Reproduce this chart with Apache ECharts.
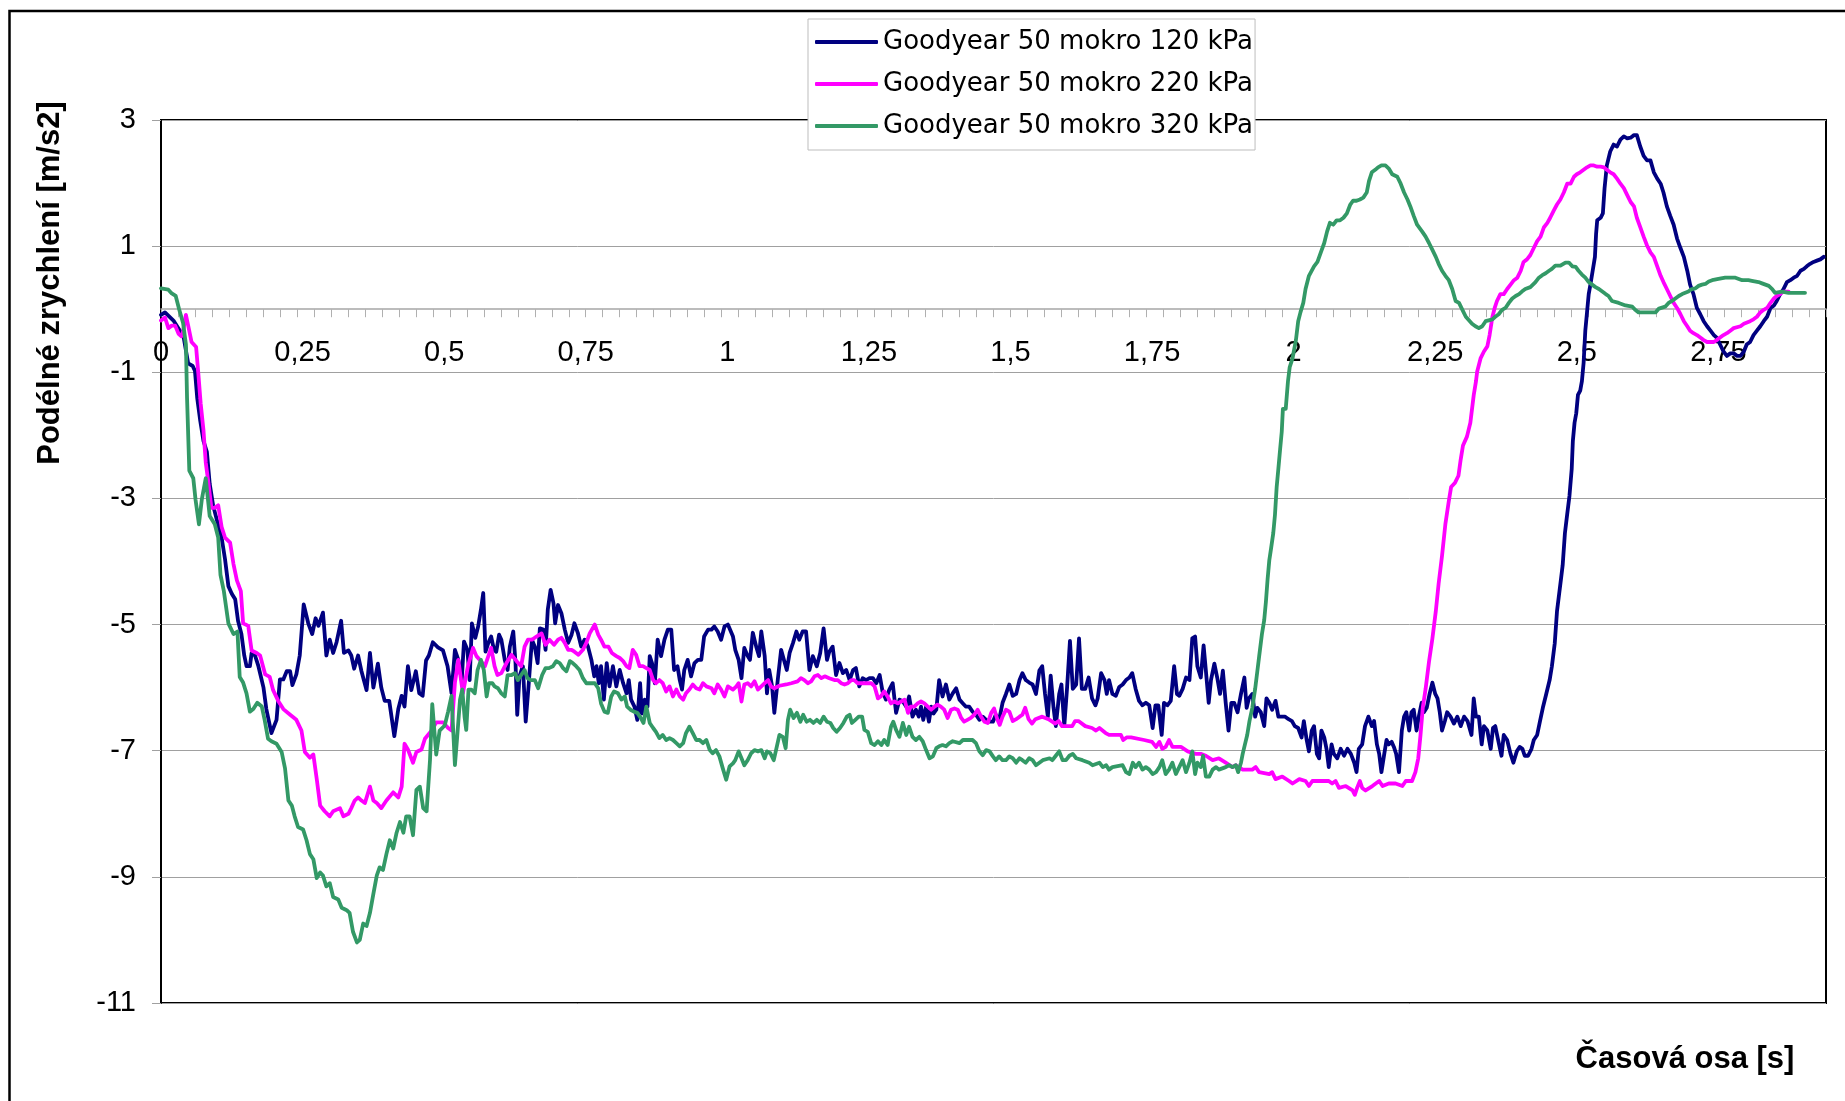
<!DOCTYPE html>
<html><head><meta charset="utf-8">
<script src="https://cdn.jsdelivr.net/npm/echarts@6/dist/echarts.min.js"></script>
<style>html,body{margin:0;padding:0;background:#fff}#c{width:1845px;height:1101px}</style>
</head><body><div id="c"></div>
<script>
const seriesNames = ['Goodyear 50 mokro 120 kPa', 'Goodyear 50 mokro 220 kPa', 'Goodyear 50 mokro 320 kPa'];
const seriesColors = ['#000080', '#FF00FF', '#339966'];
const xTitle = 'Časová osa [s]';
const yTitle = 'Podélné zrychlení [m/s2]';
const xMin = 0, xMax = 2.94, xLabelStep = 0.25, xTickStep = 0.03;
const yMin = -11, yMax = 3, yStep = 2;

// [time s, acceleration m/s2]
const g120 = [[0,-0.09],[0.007,-0.05],[0.022,-0.18],[0.034,-0.35],[0.039,-0.39],[0.048,-0.86],[0.056,-0.90],[0.060,-0.98],[0.064,-1.41],[0.069,-1.75],[0.075,-2.09],[0.081,-2.26],[0.086,-2.77],[0.092,-3.11],[0.098,-3.32],[0.107,-3.62],[0.113,-3.96],[0.119,-4.39],[0.125,-4.51],[0.131,-4.60],[0.136,-4.94],[0.142,-5.15],[0.147,-5.49],[0.151,-5.66],[0.157,-5.66],[0.160,-5.45],[0.166,-5.49],[0.172,-5.66],[0.181,-6.00],[0.186,-6.34],[0.195,-6.72],[0.204,-6.51],[0.210,-5.87],[0.216,-5.87],[0.222,-5.74],[0.228,-5.74],[0.232,-5.96],[0.239,-5.79],[0.245,-5.49],[0.252,-4.68],[0.260,-4.98],[0.267,-5.15],[0.273,-4.90],[0.278,-5.02],[0.286,-4.81],[0.292,-5.49],[0.298,-5.24],[0.304,-5.45],[0.310,-5.28],[0.318,-4.94],[0.323,-5.45],[0.331,-5.41],[0.336,-5.49],[0.341,-5.70],[0.348,-5.49],[0.354,-5.74],[0.363,-6.04],[0.369,-5.45],[0.375,-6.00],[0.383,-5.62],[0.389,-6.00],[0.395,-6.21],[0.403,-6.21],[0.412,-6.77],[0.419,-6.34],[0.425,-6.13],[0.430,-6.30],[0.436,-5.66],[0.442,-6.04],[0.450,-5.74],[0.456,-6.09],[0.462,-6.13],[0.468,-5.57],[0.473,-5.49],[0.480,-5.28],[0.489,-5.36],[0.498,-5.41],[0.506,-5.66],[0.513,-6.09],[0.519,-5.40],
[0.525,-5.56],[0.531,-5.88],[0.535,-5.27],[0.541,-5.40],[0.545,-5.88],[0.549,-4.98],[0.555,-5.21],[0.560,-5.03],[0.565,-4.76],[0.569,-4.50],[0.573,-5.43],[0.578,-5.29],[0.583,-5.19],[0.588,-5.40],[0.592,-5.43],[0.597,-5.16],[0.601,-5.24],[0.607,-5.56],[0.612,-5.72],[0.616,-5.35],[0.622,-5.11],[0.626,-5.61],[0.629,-6.43],[0.633,-5.82],[0.639,-5.66],[0.644,-6.54],[0.649,-5.98],[0.655,-5.24],[0.660,-5.35],[0.665,-5.61],[0.669,-5.06],[0.675,-5.08],[0.679,-5.40],[0.683,-4.76],[0.688,-4.45],[0.693,-4.66],[0.696,-4.98],[0.701,-4.69],[0.707,-4.82],[0.713,-5.08],[0.719,-5.29],[0.725,-5.16],[0.730,-4.98],[0.736,-5.13],[0.742,-5.35],[0.748,-5.24],[0.754,-5.35],[0.760,-5.56],[0.765,-5.82],[0.769,-5.66],[0.773,-5.93],[0.777,-5.66],[0.782,-6.19],[0.787,-5.61],[0.792,-5.98],[0.798,-5.66],[0.804,-5.98],[0.810,-5.72],[0.816,-5.93],[0.822,-6.09],[0.826,-5.88],[0.830,-6.19],[0.836,-6.30],[0.841,-6.51],[0.846,-5.93],[0.849,-6.41],[0.854,-6.19],[0.859,-6.30],[0.863,-5.50],[0.867,-5.61],[0.872,-5.93],[0.877,-5.24],[0.883,-5.50],[0.889,-5.24],[0.895,-5.08],[0.901,-5.08],[0.906,-5.72],[0.912,-5.66],[0.916,-5.88],[0.920,-6.03],[0.924,-5.72],[0.930,-5.56],[0.936,-5.82],[0.942,-5.61],[0.948,-5.56],[0.954,-5.56],[0.959,-5.19],[0.966,-5.08],[0.972,-5.08],[0.977,-5.03],[0.983,-5.11],[0.989,-5.24],[0.995,-5.03],[1.001,-5.00],
[1.010,-5.19],[1.014,-5.40],[1.020,-5.56],[1.025,-5.85],[1.030,-5.37],[1.036,-5.50],[1.040,-5.56],[1.045,-5.13],[1.051,-5.35],[1.056,-5.50],[1.060,-5.11],[1.066,-5.50],[1.070,-6.09],[1.074,-5.72],[1.079,-5.98],[1.083,-6.40],[1.089,-5.88],[1.095,-5.40],[1.100,-5.56],[1.105,-5.72],[1.110,-5.45],[1.116,-5.29],[1.122,-5.11],[1.127,-5.24],[1.133,-5.11],[1.139,-5.11],[1.145,-5.72],[1.151,-5.50],[1.158,-5.66],[1.164,-5.45],[1.170,-5.06],[1.176,-5.56],[1.180,-5.43],[1.186,-5.35],[1.192,-5.80],[1.198,-5.61],[1.204,-5.77],[1.210,-5.72],[1.216,-5.88],[1.222,-5.72],[1.227,-5.69],[1.233,-5.98],[1.239,-5.85],[1.245,-5.88],[1.251,-5.85],[1.257,-5.85],[1.263,-5.93],[1.269,-5.80],[1.274,-6.06],[1.280,-6.19],[1.286,-6.03],[1.292,-5.93],[1.298,-6.40],[1.304,-6.19],[1.310,-6.22],[1.316,-6.30],[1.321,-6.14],[1.327,-6.46],[1.333,-6.35],[1.338,-6.46],[1.342,-6.30],[1.346,-6.51],[1.351,-6.30],[1.356,-6.54],[1.360,-6.30],[1.364,-6.41],[1.369,-6.35],[1.374,-5.88],[1.380,-6.14],[1.386,-5.95],[1.392,-6.19],[1.398,-6.09],[1.404,-6.01],[1.410,-6.19],[1.416,-6.25],[1.421,-6.30],[1.427,-6.30],[1.433,-6.38],[1.439,-6.43],[1.445,-6.51],[1.451,-6.46],[1.457,-6.51],[1.463,-6.54],[1.469,-6.54],[1.474,-6.43],[1.480,-6.51],
[1.486,-6.24],[1.492,-6.10],[1.498,-5.95],[1.504,-6.13],[1.510,-6.10],[1.516,-5.88],[1.521,-5.77],[1.527,-5.88],[1.533,-5.92],[1.539,-5.95],[1.545,-6.10],[1.551,-5.73],[1.556,-5.66],[1.561,-6.10],[1.566,-6.46],[1.571,-5.81],[1.576,-6.32],[1.580,-6.61],[1.586,-6.10],[1.590,-5.95],[1.595,-6.61],[1.600,-5.99],[1.605,-5.26],[1.610,-6.02],[1.616,-5.95],[1.621,-5.22],[1.626,-6.02],[1.632,-6.02],[1.638,-5.84],[1.644,-6.17],[1.650,-6.28],[1.654,-6.17],[1.660,-5.77],[1.666,-5.88],[1.670,-6.10],[1.674,-5.88],[1.680,-6.10],[1.686,-6.13],[1.692,-5.99],[1.698,-5.95],[1.704,-5.88],[1.710,-5.84],[1.715,-5.77],[1.721,-6.02],[1.727,-6.21],[1.733,-6.28],[1.739,-6.24],[1.745,-6.28],[1.751,-6.64],[1.756,-6.28],[1.761,-6.28],[1.767,-6.75],[1.771,-6.24],[1.777,-6.28],[1.783,-6.21],[1.789,-5.66],[1.794,-6.10],[1.798,-6.13],[1.804,-6.02],[1.810,-5.84],[1.816,-5.88],[1.821,-5.22],[1.826,-5.19],[1.830,-5.66],[1.836,-5.84],[1.841,-5.33],[1.845,-5.73],[1.850,-6.24],[1.854,-5.88],[1.860,-5.62],[1.865,-5.84],[1.870,-6.10],[1.875,-5.73],[1.880,-6.24],[1.885,-6.68],[1.890,-6.24],[1.895,-6.24],[1.901,-6.39],[1.907,-6.10],[1.913,-5.84],[1.917,-6.32],[1.921,-6.17],[1.927,-6.10],[1.932,-6.46],[1.936,-6.32],[1.942,-6.39],[1.948,-6.61],[1.952,-6.17],[1.957,-6.24],[1.962,-6.35],[1.968,-6.21],[1.973,-6.46],[1.979,-6.46],[1.985,-6.46],[1.991,-6.50],[1.997,-6.53],[2.002,-6.61],[2.008,-6.64],[2.014,-6.79],[2.018,-6.53],[2.023,-6.83],[2.027,-7.01],[2.032,-6.68],[2.036,-6.61],[2.041,-7.05],[2.045,-7.12],[2.049,-6.68],[2.054,-6.79],[2.058,-6.97],[2.062,-7.26],[2.067,-6.90],[2.071,-7.05],[2.077,-7.12],[2.083,-6.97],[2.089,-7.08],[2.095,-6.97],[2.101,-7.05],[2.107,-7.19],[2.111,-7.34],[2.115,-6.97],[2.121,-6.90],[2.126,-6.61],[2.132,-6.46],[2.138,-6.61],[2.142,-6.53],[2.147,-6.90],[2.151,-7.05],[2.155,-7.34],[2.160,-7.05],[2.164,-6.83],[2.168,-6.90],[2.173,-6.86],[2.177,-6.94],[2.181,-7.05],[2.186,-7.34],[2.191,-6.68],[2.195,-6.46],[2.199,-6.39],[2.204,-6.68],[2.208,-6.39],[2.212,-6.35],[2.217,-6.68],[2.221,-6.46],[2.226,-6.24],[2.230,-6.39],[2.235,-6.32],[2.240,-6.10],[2.245,-5.92],[2.250,-6.10],[2.254,-6.17],[2.258,-6.39],[2.262,-6.68],[2.267,-6.53],[2.271,-6.39],[2.277,-6.46],[2.283,-6.57],[2.289,-6.46],[2.295,-6.61],[2.301,-6.46],[2.307,-6.53],
[2.314,-6.75],[2.318,-6.17],[2.322,-6.46],[2.327,-6.46],[2.332,-6.90],[2.336,-6.61],[2.342,-6.68],[2.348,-6.97],[2.352,-6.64],[2.356,-6.61],[2.361,-6.83],[2.367,-7.08],[2.371,-6.75],[2.377,-6.83],[2.383,-7.05],[2.388,-7.19],[2.394,-7.01],[2.399,-6.94],[2.404,-6.97],[2.408,-7.08],[2.414,-7.08],[2.420,-6.97],[2.424,-6.83],[2.430,-6.75],[2.435,-6.53],[2.440,-6.32],[2.446,-6.10],[2.452,-5.88],[2.456,-5.66],[2.461,-5.30],[2.465,-4.79],[2.468,-4.57],[2.472,-4.28],[2.475,-4.06],[2.479,-3.55],[2.483,-3.25],[2.487,-2.96],[2.491,-2.53],[2.493,-2.09],[2.496,-1.80],[2.499,-1.65],[2.502,-1.36],[2.506,-1.29],[2.509,-1.14],[2.512,-0.85],[2.515,-0.34],[2.518,-0.05],[2.521,0.24],[2.524,0.39],[2.528,0.61],[2.532,0.83],[2.534,1.19],[2.536,1.41],[2.542,1.45],[2.546,1.52],[2.549,1.92],[2.553,2.28],[2.559,2.50],[2.565,2.61],[2.571,2.58],[2.577,2.69],[2.583,2.74],[2.589,2.71],[2.595,2.72],[2.601,2.76],[2.606,2.76],[2.612,2.58],[2.618,2.43],[2.624,2.36],[2.630,2.36],[2.636,2.17],[2.642,2.07],[2.648,1.99],[2.653,1.85],[2.659,1.63],[2.665,1.48],[2.671,1.34],[2.677,1.12],[2.683,0.97],[2.689,0.83],[2.695,0.61],[2.700,0.39],[2.706,0.24],[2.712,0.02],[2.718,-0.08],[2.724,-0.19],[2.730,-0.27],[2.736,-0.34],[2.742,-0.41],[2.747,-0.45],[2.753,-0.56],[2.759,-0.67],[2.765,-0.74],[2.771,-0.70],[2.777,-0.70],[2.783,-0.74],[2.789,-0.74],[2.795,-0.67],[2.800,-0.56],[2.806,-0.52],[2.812,-0.41],[2.818,-0.34],[2.824,-0.27],[2.830,-0.19],[2.836,-0.12],[2.842,0.02],[2.848,0.06],[2.853,0.13],[2.859,0.24],[2.865,0.32],[2.871,0.43],[2.877,0.46],[2.883,0.50],[2.889,0.53],[2.895,0.61],[2.901,0.64],[2.906,0.68],[2.912,0.72],[2.918,0.75],[2.924,0.77],[2.930,0.79],[2.936,0.83]];

const g220 = [[0,-0.18],[0.007,-0.13],[0.013,-0.30],[0.019,-0.26],[0.025,-0.26],[0.031,-0.39],[0.036,-0.43],[0.039,-0.35],[0.044,-0.09],[0.048,-0.26],[0.054,-0.52],[0.062,-0.60],[0.066,-1.03],[0.070,-1.49],[0.075,-1.92],[0.079,-2.43],[0.084,-2.77],[0.089,-3.15],[0.095,-3.15],[0.101,-3.11],[0.107,-3.45],[0.113,-3.62],[0.122,-3.70],[0.128,-4.04],[0.134,-4.30],[0.141,-4.47],[0.145,-4.98],[0.154,-5.02],[0.160,-5.41],[0.169,-5.45],[0.175,-5.49],[0.184,-5.79],[0.192,-5.83],[0.198,-6.04],[0.207,-6.21],[0.216,-6.34],[0.228,-6.43],[0.239,-6.51],[0.248,-6.68],[0.254,-7.02],[0.263,-7.11],[0.269,-7.06],[0.275,-7.45],[0.281,-7.87],[0.289,-7.96],[0.298,-8.04],[0.304,-7.96],[0.316,-7.91],[0.322,-8.04],[0.331,-8.00],[0.336,-7.91],[0.342,-7.79],[0.348,-7.74],[0.354,-7.79],[0.360,-7.83],[0.369,-7.57],[0.375,-7.79],[0.381,-7.83],[0.389,-7.91],[0.398,-7.79],[0.410,-7.66],[0.419,-7.74],[0.425,-7.57],[0.430,-6.89],[0.436,-6.98],[0.445,-7.19],[0.451,-7.02],[0.460,-6.98],[0.466,-6.81],[0.478,-6.68],[0.486,-6.55],[0.498,-6.55],[0.507,-6.64],[0.513,-6.68],[0.519,-5.92],
[0.525,-5.56],[0.533,-6.09],[0.542,-5.66],[0.551,-5.37],[0.557,-5.50],[0.563,-5.56],[0.572,-5.66],[0.578,-5.50],[0.583,-5.37],[0.589,-5.66],[0.594,-5.80],[0.601,-5.77],[0.610,-5.61],[0.619,-5.48],[0.628,-5.58],[0.636,-5.66],[0.642,-5.35],[0.648,-5.24],[0.655,-5.24],[0.663,-5.19],[0.672,-5.14],[0.679,-5.32],[0.686,-5.24],[0.694,-5.32],[0.701,-5.24],[0.707,-5.21],[0.713,-5.29],[0.719,-5.40],[0.725,-5.40],[0.730,-5.43],[0.737,-5.48],[0.745,-5.40],[0.751,-5.29],[0.757,-5.14],[0.766,-5.00],[0.772,-5.16],[0.777,-5.24],[0.783,-5.35],[0.790,-5.35],[0.796,-5.45],[0.804,-5.50],[0.810,-5.53],[0.816,-5.58],[0.822,-5.66],[0.827,-5.69],[0.833,-5.40],[0.839,-5.48],[0.845,-5.66],[0.851,-5.66],[0.857,-5.69],[0.863,-5.72],[0.869,-5.88],[0.874,-5.93],[0.880,-5.88],[0.886,-5.93],[0.892,-6.06],[0.898,-5.98],[0.904,-6.14],[0.910,-6.03],[0.916,-6.14],[0.922,-6.19],[0.927,-6.09],[0.933,-6.03],[0.939,-5.95],[0.945,-6.01],[0.951,-6.03],[0.957,-5.93],[0.963,-5.98],[0.972,-6.01],[0.977,-6.09],[0.983,-5.95],[0.989,-6.03],[0.995,-6.14],[1.001,-5.98],
[1.010,-6.03],[1.016,-5.98],[1.020,-5.93],[1.025,-6.22],[1.030,-5.95],[1.036,-5.93],[1.042,-5.98],[1.048,-5.90],[1.054,-6.03],[1.060,-5.98],[1.066,-5.93],[1.072,-5.88],[1.077,-5.98],[1.083,-6.01],[1.092,-5.97],[1.104,-5.95],[1.113,-5.93],[1.124,-5.90],[1.130,-5.85],[1.136,-5.88],[1.142,-5.93],[1.148,-5.90],[1.154,-5.82],[1.160,-5.80],[1.166,-5.85],[1.172,-5.82],[1.180,-5.85],[1.189,-5.88],[1.195,-5.88],[1.201,-5.93],[1.207,-5.95],[1.213,-5.93],[1.219,-5.88],[1.224,-5.88],[1.230,-5.93],[1.242,-5.93],[1.254,-5.93],[1.260,-5.98],[1.266,-6.17],[1.271,-6.14],[1.277,-6.06],[1.283,-6.14],[1.289,-6.25],[1.295,-6.22],[1.301,-6.25],[1.307,-6.22],[1.313,-6.19],[1.319,-6.40],[1.324,-6.30],[1.330,-6.30],[1.336,-6.25],[1.342,-6.22],[1.348,-6.25],[1.354,-6.30],[1.360,-6.35],[1.366,-6.30],[1.371,-6.27],[1.377,-6.30],[1.383,-6.35],[1.389,-6.48],[1.395,-6.35],[1.401,-6.33],[1.407,-6.35],[1.413,-6.48],[1.418,-6.54],[1.424,-6.51],[1.430,-6.48],[1.436,-6.43],[1.442,-6.35],[1.448,-6.46],[1.454,-6.54],[1.460,-6.56],[1.466,-6.40],[1.471,-6.33],[1.477,-6.51],[1.481,-6.59],[1.486,-6.46],[1.492,-6.35],[1.498,-6.38],
[1.504,-6.53],[1.510,-6.50],[1.516,-6.46],[1.521,-6.43],[1.526,-6.32],[1.532,-6.50],[1.538,-6.57],[1.544,-6.50],[1.556,-6.46],[1.567,-6.50],[1.579,-6.57],[1.585,-6.53],[1.591,-6.61],[1.609,-6.61],[1.614,-6.53],[1.620,-6.53],[1.632,-6.61],[1.644,-6.64],[1.651,-6.68],[1.657,-6.64],[1.668,-6.72],[1.674,-6.75],[1.695,-6.75],[1.699,-6.83],[1.705,-6.79],[1.713,-6.79],[1.736,-6.83],[1.750,-6.86],[1.757,-6.94],[1.763,-6.86],[1.768,-6.97],[1.774,-6.94],[1.780,-6.83],[1.786,-6.94],[1.801,-6.94],[1.813,-7.01],[1.827,-7.05],[1.836,-7.05],[1.845,-7.08],[1.857,-7.15],[1.868,-7.12],[1.880,-7.19],[1.892,-7.26],[1.898,-7.23],[1.910,-7.30],[1.927,-7.30],[1.933,-7.26],[1.939,-7.34],[1.957,-7.37],[1.962,-7.34],[1.968,-7.45],[1.980,-7.41],[1.992,-7.48],[1.998,-7.52],[2.010,-7.45],[2.021,-7.48],[2.027,-7.56],[2.033,-7.48],[2.062,-7.48],[2.068,-7.52],[2.074,-7.48],[2.080,-7.59],[2.092,-7.56],[2.104,-7.63],[2.108,-7.70],[2.112,-7.59],[2.117,-7.48],[2.121,-7.59],[2.127,-7.63],[2.139,-7.56],[2.151,-7.48],[2.157,-7.56],[2.168,-7.52],[2.180,-7.52],[2.192,-7.56],[2.198,-7.48],[2.209,-7.48],[2.215,-7.34],[2.220,-7.12],[2.224,-6.75],[2.228,-6.32],[2.233,-6.02],[2.239,-5.59],[2.245,-5.22],[2.251,-4.79],[2.256,-4.35],[2.262,-3.91],[2.268,-3.40],[2.274,-3.04],[2.278,-2.82],[2.285,-2.75],[2.291,-2.64],[2.295,-2.38],[2.299,-2.16],[2.306,-2.02],[2.312,-1.80],[2.318,-1.36],[2.322,-1.14],
[2.324,-0.99],[2.330,-0.78],[2.336,-0.67],[2.342,-0.59],[2.346,-0.41],[2.351,-0.12],[2.355,0.02],[2.359,0.13],[2.365,0.24],[2.371,0.24],[2.377,0.32],[2.383,0.39],[2.389,0.46],[2.395,0.50],[2.401,0.61],[2.406,0.75],[2.412,0.79],[2.418,0.86],[2.424,0.97],[2.430,1.08],[2.436,1.15],[2.442,1.30],[2.448,1.37],[2.453,1.45],[2.459,1.56],[2.465,1.66],[2.471,1.74],[2.477,1.85],[2.483,1.99],[2.489,1.99],[2.495,2.10],[2.500,2.14],[2.506,2.17],[2.512,2.21],[2.518,2.25],[2.524,2.28],[2.530,2.28],[2.536,2.26],[2.542,2.26],[2.548,2.25],[2.553,2.21],[2.559,2.17],[2.565,2.14],[2.571,2.07],[2.577,1.99],[2.583,1.92],[2.589,1.81],[2.595,1.70],[2.601,1.63],[2.606,1.45],[2.612,1.30],[2.618,1.15],[2.624,1.01],[2.630,0.90],[2.636,0.83],[2.642,0.68],[2.648,0.53],[2.653,0.43],[2.659,0.32],[2.665,0.21],[2.671,0.10],[2.677,0.02],[2.683,-0.08],[2.689,-0.19],[2.695,-0.27],[2.700,-0.34],[2.706,-0.38],[2.712,-0.41],[2.718,-0.45],[2.724,-0.49],[2.730,-0.52],[2.742,-0.52],[2.747,-0.49],[2.753,-0.45],[2.759,-0.41],[2.765,-0.38],[2.771,-0.34],[2.777,-0.30],[2.789,-0.27],[2.795,-0.23],[2.806,-0.19],[2.812,-0.16],[2.818,-0.12],[2.824,-0.05],[2.830,-0.01],[2.836,0.02],[2.842,0.10],[2.848,0.17],[2.853,0.21],[2.859,0.24],[2.865,0.28],[2.874,0.28]];

const g320 = [[0,0.33],[0.013,0.31],[0.019,0.25],[0.026,0.21],[0.032,0.00],[0.039,-0.22],[0.044,-0.56],[0.046,-1.41],[0.050,-2.56],[0.057,-2.68],[0.061,-3.02],[0.067,-3.41],[0.072,-3.02],[0.079,-2.68],[0.086,-3.28],[0.095,-3.41],[0.101,-3.62],[0.105,-4.21],[0.111,-4.47],[0.119,-4.98],[0.128,-5.15],[0.135,-5.11],[0.139,-5.83],[0.145,-5.92],[0.151,-6.09],[0.157,-6.38],[0.163,-6.34],[0.170,-6.24],[0.178,-6.30],[0.183,-6.51],[0.189,-6.81],[0.195,-6.85],[0.204,-6.89],[0.213,-7.02],[0.219,-7.28],[0.225,-7.79],[0.231,-7.87],[0.236,-8.04],[0.242,-8.21],[0.251,-8.25],[0.257,-8.42],[0.263,-8.64],[0.269,-8.72],[0.275,-9.02],[0.281,-8.93],[0.286,-8.98],[0.292,-9.15],[0.298,-9.10],[0.304,-9.32],[0.313,-9.36],[0.319,-9.49],[0.328,-9.53],[0.333,-9.57],[0.339,-9.87],[0.346,-10.04],[0.351,-10.00],[0.357,-9.74],[0.363,-9.78],[0.369,-9.57],[0.375,-9.27],[0.381,-8.98],[0.386,-8.85],[0.392,-8.89],[0.398,-8.64],[0.404,-8.42],[0.410,-8.55],[0.416,-8.30],[0.422,-8.13],[0.428,-8.30],[0.433,-8.04],[0.439,-8.04],[0.445,-8.34],[0.451,-7.62],[0.457,-7.57],[0.463,-7.91],[0.469,-7.96],[0.475,-7.15],[0.479,-6.26],[0.486,-7.06],[0.492,-6.68],[0.501,-6.60],[0.507,-6.38],[0.513,-6.13],[0.519,-7.23],
[0.523,-6.78],[0.528,-6.19],[0.532,-6.03],[0.536,-6.46],[0.539,-6.67],[0.543,-6.03],[0.548,-6.03],[0.554,-6.09],[0.559,-5.72],[0.565,-5.56],[0.570,-5.72],[0.575,-6.14],[0.579,-5.93],[0.585,-5.93],[0.589,-5.98],[0.595,-6.01],[0.601,-6.09],[0.607,-6.14],[0.612,-5.80],[0.619,-5.80],[0.625,-5.77],[0.630,-5.88],[0.636,-5.80],[0.642,-5.72],[0.647,-5.85],[0.653,-5.88],[0.660,-5.88],[0.666,-6.01],[0.673,-5.80],[0.679,-5.69],[0.685,-5.69],[0.692,-5.66],[0.698,-5.58],[0.704,-5.61],[0.710,-5.69],[0.716,-5.74],[0.722,-5.58],[0.727,-5.61],[0.733,-5.66],[0.739,-5.72],[0.745,-5.85],[0.751,-5.93],[0.766,-5.93],[0.772,-6.01],[0.777,-6.25],[0.783,-6.38],[0.789,-6.40],[0.795,-6.14],[0.800,-6.06],[0.807,-6.09],[0.813,-6.19],[0.819,-6.14],[0.823,-6.30],[0.829,-6.35],[0.835,-6.38],[0.841,-6.40],[0.847,-6.48],[0.852,-6.56],[0.857,-6.30],[0.863,-6.56],[0.869,-6.64],[0.874,-6.70],[0.880,-6.80],[0.886,-6.75],[0.892,-6.83],[0.898,-6.80],[0.904,-6.83],[0.910,-6.88],[0.916,-6.93],[0.922,-6.88],[0.927,-6.72],[0.933,-6.62],[0.939,-6.72],[0.945,-6.83],[0.951,-6.83],[0.957,-6.88],[0.963,-6.83],[0.969,-6.99],[0.974,-7.04],[0.980,-6.99],[0.986,-7.09],[0.992,-7.28],[0.998,-7.46],[1.004,-7.25],[1.010,-7.20],
[1.014,-7.15],[1.020,-7.01],[1.025,-7.12],[1.030,-7.23],[1.036,-7.15],[1.042,-7.04],[1.048,-6.99],[1.054,-7.01],[1.060,-6.99],[1.066,-7.12],[1.070,-7.01],[1.076,-7.04],[1.082,-7.15],[1.086,-6.99],[1.092,-6.75],[1.098,-6.78],[1.103,-6.96],[1.107,-6.51],[1.111,-6.35],[1.117,-6.48],[1.123,-6.40],[1.129,-6.54],[1.134,-6.43],[1.140,-6.54],[1.146,-6.51],[1.152,-6.56],[1.158,-6.51],[1.164,-6.56],[1.170,-6.46],[1.176,-6.54],[1.182,-6.56],[1.187,-6.64],[1.193,-6.70],[1.199,-6.64],[1.205,-6.56],[1.211,-6.46],[1.216,-6.43],[1.220,-6.56],[1.226,-6.51],[1.232,-6.46],[1.238,-6.46],[1.242,-6.67],[1.248,-6.70],[1.254,-6.88],[1.260,-6.91],[1.266,-6.85],[1.272,-6.91],[1.277,-6.83],[1.283,-6.91],[1.289,-6.62],[1.293,-6.54],[1.298,-6.67],[1.304,-6.78],[1.310,-6.56],[1.316,-6.75],[1.321,-6.62],[1.327,-6.78],[1.333,-6.83],[1.339,-6.78],[1.345,-6.85],[1.351,-6.99],[1.357,-7.12],[1.363,-7.09],[1.369,-6.96],[1.374,-6.93],[1.380,-6.91],[1.386,-6.93],[1.392,-6.88],[1.398,-6.85],[1.410,-6.88],[1.416,-6.83],[1.433,-6.83],[1.439,-6.88],[1.445,-7.01],[1.451,-7.07],[1.457,-6.99],[1.463,-7.01],[1.469,-7.09],[1.474,-7.15],[1.480,-7.09],[1.486,-7.15],[1.492,-7.15],[1.498,-7.09],
[1.504,-7.12],[1.510,-7.19],[1.516,-7.12],[1.521,-7.15],[1.527,-7.19],[1.533,-7.12],[1.539,-7.15],[1.545,-7.23],[1.551,-7.19],[1.557,-7.15],[1.569,-7.12],[1.574,-7.15],[1.580,-7.08],[1.586,-7.01],[1.592,-7.15],[1.598,-7.15],[1.604,-7.08],[1.610,-7.05],[1.616,-7.12],[1.627,-7.15],[1.639,-7.19],[1.645,-7.23],[1.657,-7.19],[1.663,-7.26],[1.669,-7.23],[1.674,-7.30],[1.680,-7.26],[1.698,-7.23],[1.704,-7.34],[1.710,-7.37],[1.716,-7.19],[1.721,-7.26],[1.727,-7.19],[1.733,-7.30],[1.739,-7.26],[1.745,-7.30],[1.751,-7.37],[1.757,-7.34],[1.763,-7.26],[1.768,-7.15],[1.774,-7.37],[1.780,-7.30],[1.786,-7.19],[1.792,-7.37],[1.798,-7.26],[1.804,-7.15],[1.810,-7.34],[1.816,-7.19],[1.821,-7.01],[1.826,-7.37],[1.830,-7.19],[1.836,-7.26],[1.840,-7.08],[1.845,-7.41],[1.851,-7.41],[1.857,-7.30],[1.863,-7.26],[1.868,-7.30],[1.880,-7.26],[1.886,-7.23],[1.892,-7.26],[1.898,-7.23],[1.902,-7.34],[1.907,-7.19],[1.910,-7.05],[1.914,-6.90],[1.918,-6.75],[1.922,-6.53],[1.927,-6.32],[1.932,-6.02],[1.936,-5.73],[1.939,-5.51],[1.944,-5.15],[1.948,-4.93],[1.951,-4.64],[1.954,-4.28],[1.957,-3.98],[1.960,-3.80],[1.964,-3.55],[1.967,-3.26],[1.970,-2.82],[1.973,-2.53],[1.976,-2.23],[1.979,-1.94],[1.981,-1.58],[1.986,-1.58],[1.990,-1.14],[1.993,-0.92],[1.998,-0.78],[2.004,-0.49],[2.008,-0.19],[2.012,-0.05],[2.017,0.10],[2.021,0.32],[2.027,0.53],[2.036,0.68],[2.042,0.75],[2.048,0.90],[2.054,1.05],[2.059,1.23],[2.064,1.37],[2.070,1.34],[2.076,1.41],[2.082,1.41],[2.088,1.45],[2.094,1.52],[2.100,1.66],[2.105,1.72],[2.111,1.72],[2.117,1.74],[2.123,1.77],[2.129,1.85],[2.133,2.03],[2.138,2.17],[2.144,2.21],[2.149,2.25],[2.155,2.28],[2.162,2.28],[2.168,2.23],[2.174,2.14],[2.183,2.10],[2.189,1.99],[2.195,1.85],[2.201,1.74],[2.206,1.63],[2.212,1.48],[2.218,1.34],[2.227,1.23],[2.233,1.15],[2.239,1.05],[2.245,0.94],[2.251,0.83],[2.256,0.72],[2.262,0.61],[2.268,0.53],[2.274,0.46],[2.280,0.32],[2.286,0.13],[2.292,0.10],[2.298,-0.01],[2.304,-0.12],
[2.315,-0.23],[2.321,-0.27],[2.327,-0.30],[2.333,-0.27],[2.339,-0.19],[2.351,-0.16],[2.356,-0.12],[2.362,-0.08],[2.368,-0.01],[2.374,0.02],[2.380,0.10],[2.386,0.17],[2.392,0.21],[2.398,0.24],[2.403,0.28],[2.409,0.32],[2.418,0.35],[2.427,0.43],[2.433,0.50],[2.439,0.54],[2.445,0.57],[2.451,0.61],[2.456,0.64],[2.462,0.69],[2.471,0.69],[2.480,0.74],[2.486,0.74],[2.492,0.68],[2.498,0.67],[2.503,0.61],[2.509,0.55],[2.515,0.50],[2.521,0.43],[2.527,0.39],[2.533,0.35],[2.539,0.32],[2.545,0.28],[2.551,0.24],[2.556,0.21],[2.562,0.13],[2.574,0.10],[2.586,0.06],[2.598,0.04],[2.603,-0.01],[2.609,-0.05],[2.621,-0.05],[2.639,-0.05],[2.645,0.01],[2.656,0.04],[2.662,0.10],[2.668,0.13],[2.674,0.17],[2.680,0.21],[2.686,0.24],[2.697,0.28],[2.703,0.32],[2.709,0.33],[2.715,0.37],[2.721,0.39],[2.727,0.40],[2.733,0.44],[2.739,0.46],[2.750,0.48],[2.762,0.50],[2.780,0.50],[2.786,0.48],[2.792,0.46],[2.803,0.46],[2.809,0.45],[2.821,0.43],[2.827,0.41],[2.833,0.39],[2.839,0.37],[2.845,0.32],[2.850,0.26],[2.862,0.28],[2.874,0.26],[2.886,0.26],[2.903,0.26]];

const seriesData = [g120, g220, g320];
const labelFont = '"Liberation Sans", Arial, sans-serif';

// plot area layout (pixels)
const gridLeft = 161, gridTop = 120, gridRight = 19, gridBottom = 98;
const gridHeight = 1101 - gridTop - gridBottom;
// shift the label axis from the bottom edge up to the value 0 of the y axis
const zeroOffset = -gridHeight * (0 - yMin) / (yMax - yMin);

const chart = echarts.init(document.getElementById('c'), null, {renderer: 'canvas'});
const option = {
  animation: false,
  backgroundColor: '#ffffff',
  grid: {left: gridLeft, top: gridTop, right: gridRight, bottom: gridBottom, show: true, borderColor: '#000', borderWidth: 2, backgroundColor: 'transparent'},
  legend: {
    orient: 'vertical', left: 808, top: 19, padding: [8, 2, 9, 7], itemGap: 12,
    itemWidth: 63, itemHeight: 4, icon: 'roundRect',
    backgroundColor: '#fff', borderColor: '#bdbdbd', borderWidth: 1, z: 10,
    textStyle: {fontFamily: '"DejaVu Sans", sans-serif', fontSize: 26, color: '#000', lineHeight: 30},
    data: seriesNames
  },
  xAxis: [
    {type: 'value', position: 'bottom', offset: zeroOffset, min: xMin, max: xMax, interval: xLabelStep,
     axisLine: {show: false, onZero: false},
     axisTick: {show: false}, splitLine: {show: false},
     axisLabel: {margin: 29, fontSize: 29, fontFamily: labelFont, color: '#000', showMaxLabel: false,
       formatter: v => String(v).replace('.', ',')}},
    {type: 'value', position: 'bottom', min: xMin, max: xMax, interval: xTickStep,
     axisLine: {show: true, onZero: true, onZeroAxisIndex: 0, lineStyle: {color: '#a6a6a6', width: 1.5}},
     axisTick: {show: true, inside: false, length: 8, lineStyle: {color: '#b0b0b0', width: 1}},
     axisLabel: {show: false}, splitLine: {show: false}}
  ],
  yAxis: {
    type: 'value', min: yMin, max: yMax, interval: yStep,
    axisLine: {show: true, lineStyle: {color: '#000', width: 2}},
    axisTick: {show: true, length: 9, lineStyle: {color: '#a0a0a0', width: 1}},
    axisLabel: {margin: 25, fontSize: 29, fontFamily: labelFont, color: '#000'},
    splitLine: {show: true, lineStyle: {color: '#a0a0a0', width: 1}}
  },
  series: seriesNames.map((n, i) => ({
    name: n, type: 'line', xAxisIndex: 0, data: seriesData[i], showSymbol: false, symbol: 'none',
    color: seriesColors[i],
    lineStyle: {color: seriesColors[i], width: 3.8, cap: 'round', join: 'round'}
  })),
  graphic: [
    {type: 'rect', silent: true, shape: {x: 9.5, y: 11, width: 1900, height: 1200},
     style: {fill: 'none', stroke: '#000', lineWidth: 2.5}},
    {type: 'text', silent: true, x: 50, y: 283, rotation: Math.PI / 2,
     style: {text: yTitle, font: 'bold 31px ' + labelFont, fill: '#000', align: 'center', verticalAlign: 'middle'}},
    {type: 'text', silent: true, x: 1685, y: 1059,
     style: {text: xTitle, font: 'bold 31px ' + labelFont, fill: '#000', align: 'center', verticalAlign: 'middle'}}
  ]
};
chart.setOption(option);
</script>
</body></html>
